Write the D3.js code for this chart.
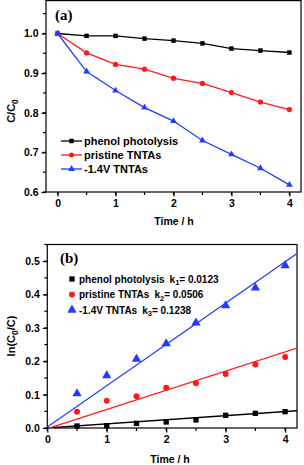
<!DOCTYPE html>
<html>
<head>
<meta charset="utf-8">
<script src="https://cdn.jsdelivr.net/npm/d3@7"></script>
<style>
  body { margin: 0; background: #fff; }
  svg { display: block; font-family: "Liberation Sans", Arial, sans-serif; font-weight: bold; }
</style>
</head>
<body>
<div id="chart"></div>
<script>
// time points (h)
const timeA = [0, 0.5, 1, 1.5, 2, 2.5, 3, 3.5, 4];
const timeB = [0.5, 1, 1.5, 2, 2.5, 3, 3.5, 4];

// (a) C/C0
const photolysisA = [1.0, 0.994, 0.994, 0.987, 0.982, 0.975, 0.962, 0.957, 0.952];
const pristineA = [1.0, 0.951, 0.922, 0.910, 0.887, 0.874, 0.851, 0.827, 0.808];
const treatedA = [1.0, 0.904, 0.856, 0.813, 0.779, 0.730, 0.695, 0.660, 0.618];

// (b) ln(C0/C)
const photolysisB = [0.006, 0.007, 0.014, 0.018, 0.024, 0.038, 0.044, 0.049];
const pristineB = [0.049, 0.082, 0.095, 0.121, 0.134, 0.162, 0.190, 0.213];
const treatedB = [0.103, 0.157, 0.207, 0.253, 0.315, 0.367, 0.420, 0.487];

// fitted lines
const fitSlope = [0.0123, 0.0575, 0.1238];
const fitIntercept = [0, -0.002, 0.003];

const names = ["phenol photolysis", "pristine TNTAs", "-1.4V TNTAs"];
const kSubs = ["1", "2", "3"];
const kValues = ["0.0123", "0.0506", "0.1238"];

const xTicks = [0, 1, 2, 3, 4];
const yTicksA = [0.6, 0.7, 0.8, 0.9, 1.0];
const yTicksB = [0.0, 0.1, 0.2, 0.3, 0.4, 0.5];

const colors = ["#000000", "#ff1a1a", "#1f3cff"];
const symbols = [d3.symbolSquare, d3.symbolCircle, d3.symbolTriangle];

const svg = d3.select("#chart").append("svg")
    .attr("width", 304)
    .attr("height", 465);

function frame(g, x, y, xt, yt, yfmt) {
    const [x0, x1] = x.range();
    const [y0, y1] = y.range();
    g.append("rect")
        .attr("x", x0).attr("y", y1)
        .attr("width", x1 - x0).attr("height", y0 - y1)
        .attr("fill", "none").attr("stroke", "#000").attr("stroke-width", 1.2);

    // minor ticks
    const xd = x.domain(), yd = y.domain();
    const xm = d3.range(Math.ceil(xd[0] * 2) / 2, xd[1] + 1e-9, 0.5);
    g.selectAll(".xm").data(xm).enter().append("line")
        .attr("x1", d => x(d)).attr("x2", d => x(d))
        .attr("y1", y0).attr("y2", y0 + 3)
        .attr("stroke", "#000").attr("stroke-width", 1.2);
    const ym = d3.range(Math.ceil(yd[0] / 0.05 - 1e-9) * 0.05, yd[1] + 1e-9, 0.05);
    g.selectAll(".ym").data(ym).enter().append("line")
        .attr("y1", d => y(d)).attr("y2", d => y(d))
        .attr("x1", x0).attr("x2", x0 - 3)
        .attr("stroke", "#000").attr("stroke-width", 1.2);

    const xa = g.append("g")
        .attr("transform", "translate(0," + y0 + ")")
        .call(d3.axisBottom(x).tickValues(xt).tickSize(4.5).tickPadding(3).tickFormat(d3.format("d")));
    const ya = g.append("g")
        .attr("transform", "translate(" + x0 + ",0)")
        .call(d3.axisLeft(y).tickValues(yt).tickSize(4.5).tickPadding(3).tickFormat(d3.format(yfmt)));
    [xa, ya].forEach(a => {
        a.select(".domain").remove();
        a.selectAll("line").attr("stroke-width", 1.2);
        a.selectAll("text").attr("font-size", 10.5).attr("font-weight", "bold")
            .attr("font-family", "Liberation Sans, Arial, sans-serif").attr("fill", "#000");
    });
}

// ---------- panel (a)
const xA = d3.scaleLinear().domain([-0.2, 4.2]).range([46, 301]);
const yA = d3.scaleLinear().domain([0.6, 1.083]).range([192, 0.6]);
const gA = svg.append("g");
frame(gA, xA, yA, xTicks, yTicksA, ".1f");

[photolysisA, pristineA, treatedA].forEach((s, i) => {
    gA.append("path")
        .datum(s)
        .attr("fill", "none")
        .attr("stroke", colors[i])
        .attr("stroke-width", 1.3)
        .attr("d", d3.line().x((d, j) => xA(timeA[j])).y(d => yA(d)));
    gA.selectAll(".pa" + i).data(s).enter().append("path")
        .attr("transform", (d, j) => "translate(" + xA(timeA[j]) + "," + yA(d) + ")")
        .attr("d", d3.symbol().type(symbols[i]).size(i === 1 ? 22 : 20))
        .attr("fill", colors[i]);
});

gA.append("text").attr("x", 55).attr("y", 20)
    .attr("font-family", "Liberation Serif, Times New Roman, serif")
    .attr("font-size", 15).attr("font-weight", "bold").text("(a)");

names.forEach((n, i) => {
    const ly = 141 + i * 14;
    gA.append("line").attr("x1", 61).attr("x2", 82).attr("y1", ly).attr("y2", ly)
        .attr("stroke", colors[i]).attr("stroke-width", 1.3);
    gA.append("path").attr("transform", "translate(71.5," + ly + ")")
        .attr("d", d3.symbol().type(symbols[i]).size(20)).attr("fill", colors[i]);
    gA.append("text").attr("x", 84).attr("y", ly + 4)
        .attr("font-size", 11).text(n);
});

gA.append("text").attr("x", 174).attr("y", 225).attr("text-anchor", "middle")
    .attr("font-size", 10.5).text("Time / h");
const yLabA = gA.append("text").attr("transform", "translate(15,111) rotate(-90)")
    .attr("text-anchor", "middle").attr("font-size", 11);
yLabA.append("tspan").text("C/C");
yLabA.append("tspan").attr("font-size", 8.5).attr("dy", 3).text("0");

// ---------- panel (b)
const xB = d3.scaleLinear().domain([0, 4.2]).range([47.3, 297]);
const yB = d3.scaleLinear().domain([0, 0.55]).range([428, 244.5]);
const gB = svg.append("g");
frame(gB, xB, yB, xTicks, yTicksB, ".1f");

gB.append("clipPath").attr("id", "clipB").append("rect")
    .attr("x", 47.3).attr("y", 244.5).attr("width", 297 - 47.3).attr("height", 428 - 244.5);

fitSlope.forEach((k, i) => {
    const xs = [0, 4.2];
    gB.append("path")
        .datum(xs)
        .attr("clip-path", "url(#clipB)")
        .attr("fill", "none").attr("stroke", colors[i]).attr("stroke-width", 1.3)
        .attr("d", d3.line().x(d => xB(d)).y(d => yB(k * d + fitIntercept[i])));
});

[photolysisB, pristineB, treatedB].forEach((s, i) => {
    gB.selectAll(".pb" + i).data(s).enter().append("path")
        .attr("transform", (d, j) => "translate(" + xB(timeB[j]) + "," + yB(d) + ")")
        .attr("d", d3.symbol().type(symbols[i]).size(i === 2 ? 38 : 28))
        .attr("fill", colors[i]);
});

gB.append("text").attr("x", 60).attr("y", 263)
    .attr("font-family", "Liberation Serif, Times New Roman, serif")
    .attr("font-size", 15).attr("font-weight", "bold").text("(b)");

names.forEach((n, i) => {
    const ly = 279 + i * 15.5;
    gB.append("path").attr("transform", "translate(72," + ly + ")")
        .attr("d", d3.symbol().type(symbols[i]).size(i === 2 ? 38 : 28)).attr("fill", colors[i]);
    const t = gB.append("text").attr("x", 79).attr("y", ly + 3.8).attr("font-size", 10);
    t.append("tspan").text(n);
    t.append("tspan").attr("dx", 5).text("k");
    t.append("tspan").attr("font-size", 7.5).attr("dy", 2.5).text(kSubs[i]);
    t.append("tspan").attr("dy", -2.5).text("= " + kValues[i]);
});

gB.append("text").attr("x", 170).attr("y", 463).attr("text-anchor", "middle")
    .attr("font-size", 10.5).text("Time / h");
const yLabB = gB.append("text").attr("transform", "translate(15,336) rotate(-90)")
    .attr("text-anchor", "middle").attr("font-size", 11);
yLabB.append("tspan").text("ln(C");
yLabB.append("tspan").attr("font-size", 8.5).attr("dy", 3).text("0");
yLabB.append("tspan").attr("dy", -3).text("/C)");
</script>
</body>
</html>
